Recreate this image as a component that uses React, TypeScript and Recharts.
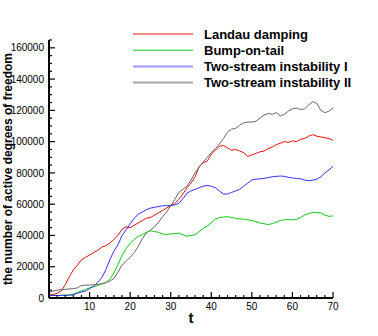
import { LineChart, Line, XAxis, YAxis, Legend } from "recharts";

const tValues = [
  0, 1, 2, 3, 4, 5, 6, 7, 8, 9, 10, 11, 12, 13, 14, 15, 16, 17, 18, 19, 20,
  21, 22, 23, 24, 25, 26, 27, 28, 29, 30, 31, 32, 33, 34, 35, 36, 37, 38, 39, 40,
  41, 42, 43, 44, 45, 46, 47, 48, 49, 50, 51, 52, 53, 54, 55, 56, 57, 58, 59, 60,
  61, 62, 63, 64, 65, 66, 67, 68, 69, 70,
];

const landau = [
  2000, 2200, 3000, 4500, 8500, 13500, 18000, 21000, 24500, 26000, 27500,
  29000, 30500, 32500, 33500, 35000, 37500, 40000, 44000, 45500, 45000,
  46500, 48000, 49500, 51000, 51500, 53000, 54500, 56000, 57500, 59000,
  60500, 63000, 66500, 70500, 73500, 77500, 84000, 86500, 87500, 92000,
  94500, 97000, 97500, 96000, 94500, 95000, 94000, 93000, 90500, 91500,
  92500, 93500, 94000, 95500, 96500, 98000, 99000, 100000, 99500, 100500,
  100000, 101500, 102000, 103500, 104500, 103500, 103000, 102500, 102000, 100800,
];

const bumpOnTail = [
  1500, 1600, 1600, 1700, 1800, 2000, 2500, 3500, 4500, 5500, 6500,
  7200, 8000, 9000, 9800, 12000, 16000, 21500, 27000, 31500, 35000,
  37500, 39500, 40500, 42000, 43000, 42500, 42000, 41000, 40500, 41000,
  41200, 41500, 40500, 39500, 40000, 40500, 42500, 44500, 46000, 48000,
  50500, 51500, 51800, 52000, 51500, 51000, 50500, 50500, 50000, 49500,
  48800, 48000, 47500, 47000, 47500, 48500, 49500, 50000, 50200, 50000,
  50200, 51500, 53000, 54000, 54800, 54500, 54500, 53000, 52200, 52500,
];

const twoStreamI = [
  1500, 1600, 1600, 1700, 1700, 1800, 2000, 3000, 3800, 4500, 6000,
  7500, 10000, 13000, 18000, 24500, 30000, 34000, 40000, 43500, 47500,
  51000, 53500, 55000, 56500, 57500, 58000, 58500, 59000, 59000, 59200,
  59500, 60500, 63500, 67000, 68500, 69500, 70500, 71500, 72000, 71500,
  70500, 68500, 66500, 66500, 67500, 68500, 69500, 71500, 73500, 75500,
  76000, 76200, 76500, 77000, 77500, 77800, 78000, 77800, 77200, 76800,
  76500, 76200, 75500, 75000, 75300, 76000, 77500, 80000, 82000, 84200,
];

const twoStreamII = [
  3500, 4500, 5000, 5300, 5500, 5800, 6000, 6500, 8000, 8200, 8300,
  8500, 8700, 9200, 9800, 10800, 12500, 16500, 21000, 23500, 26000,
  29000, 33000, 38000, 41500, 43500, 45500, 48500, 52000, 55000, 59000,
  63000, 67500, 69500, 71500, 75500, 80000, 83500, 87000, 90000, 93000,
  95500, 98500, 102000, 106000, 108000, 108500, 110500, 112000, 112500, 112500,
  113000, 115000, 117000, 118000, 117500, 118500, 116500, 117500, 119500, 121000,
  121500, 120500, 121000, 123500, 125500, 124500, 120000, 118500, 119500, 121500,
];

const yTicks = [
  0, 5000, 10000, 15000, 20000, 25000, 30000, 35000, 40000, 45000, 50000,
  55000, 60000, 65000, 70000, 75000, 80000, 85000, 90000, 95000, 100000,
  105000, 110000, 115000, 120000, 125000, 130000, 135000, 140000, 145000,
  150000, 155000, 160000, 165000,
];

const xTicks = [
  0, 2, 4, 6, 8, 10, 12, 14, 16, 18, 20, 22, 24, 26, 28, 30, 32, 34, 36, 38,
  40, 42, 44, 46, 48, 50, 52, 54, 56, 58, 60, 62, 64, 66, 68, 70,
];

const series = [
  { key: "landau", name: "Landau damping", color: "#e01010", legendColor: "#e01010", legendWidth: 1 },
  { key: "bump", name: "Bump-on-tail", color: "#10c810", legendColor: "#10c810", legendWidth: 1 },
  { key: "ts1", name: "Two-stream instability I", color: "#3030ff", legendColor: "#9a9aff", legendWidth: 2 },
  { key: "ts2", name: "Two-stream instability II", color: "#686868", legendColor: "#a8a8a8", legendWidth: 2 },
];

const data = tValues.map((t, i) => ({
  t,
  landau: landau[i],
  bump: bumpOnTail[i],
  ts1: twoStreamI[i],
  ts2: twoStreamII[i],
}));

const FONT = "'Liberation Sans', Arial, sans-serif";
const PLOT_LEFT = 49;
const PLOT_BOTTOM = 298;

function YTick(props: any) {
  const { payload } = props;
  const y = payload.coordinate;
  const major = payload.value % 20000 === 0;
  return (
    <g>
      <line x1={PLOT_LEFT} x2={PLOT_LEFT + (major ? 6 : 3)} y1={y} y2={y} stroke="#000" strokeWidth={1.2} />
      {major && (
        <text x={PLOT_LEFT - 5} y={y} dy="0.36em" textAnchor="end" fontSize={10} fontFamily={FONT} fill="#000">
          {payload.value}
        </text>
      )}
    </g>
  );
}

function XTick(props: any) {
  const { payload } = props;
  const x = payload.coordinate;
  const major = payload.value % 10 === 0;
  return (
    <g>
      <line x1={x} x2={x} y1={PLOT_BOTTOM} y2={PLOT_BOTTOM - (major ? 6 : 3)} stroke="#000" strokeWidth={1.2} />
      {major && payload.value > 0 && (
        <text x={x} y={PLOT_BOTTOM + 12} textAnchor="middle" fontSize={10} fontFamily={FONT} fill="#000">
          {payload.value}
        </text>
      )}
    </g>
  );
}

// y title sits at the far left edge, centred on the axis
function YTitle() {
  return (
    <text
      x={12}
      y={169}
      transform="rotate(-90 12 169)"
      textAnchor="middle"
      fontSize={12}
      fontWeight="bold"
      fontFamily={FONT}
      fill="#000"
    >
      the number of active degrees of freedom
    </text>
  );
}

function renderLegend() {
  return (
    <svg width={378} height={100} style={{ display: "block" }}>
      {series.map((s, i) => {
        const y = 34 + i * 16.2;
        return (
          <g key={s.key}>
            <line x1={133} x2={193} y1={y} y2={y} stroke={s.legendColor} strokeWidth={s.legendWidth} />
            <text x={204} y={y + 4.5} fontSize={13} fontWeight="bold" fontFamily={FONT} fill="#000">
              {s.name}
            </text>
          </g>
        );
      })}
    </svg>
  );
}

export default function App() {
  return (
    <div style={{ position: "absolute", left: 0, top: 0, width: 378, height: 336, background: "#fff" }}>
      <LineChart width={378} height={336} data={data} margin={{ top: 40, right: 45, left: 0, bottom: 0 }}>
        <XAxis
          dataKey="t"
          type="number"
          domain={[0, 70]}
          ticks={xTicks}
          interval={0}
          height={38}
          axisLine={{ stroke: "#000", strokeWidth: 2 }}
          tickLine={false}
          tick={<XTick />}
          label={{ value: "t", position: "insideBottom", offset: 13, fontSize: 15, fontWeight: "bold", fontFamily: FONT, fill: "#000" }}
        />
        <YAxis
          type="number"
          domain={[0, 165000]}
          ticks={yTicks}
          interval={0}
          width={49}
          axisLine={{ stroke: "#000", strokeWidth: 2 }}
          tickLine={false}
          tick={<YTick />}
          label={<YTitle />}
        />
        <Legend
          layout="vertical"
          align="center"
          verticalAlign="middle"
          content={renderLegend}
          wrapperStyle={{ left: 0, top: 0, width: 378, height: 100 }}
        />
        {series.map((s) => (
          <Line
            key={s.key}
            dataKey={s.key}
            name={s.name}
            stroke={s.color}
            strokeWidth={1}
            dot={false}
            type="linear"
            isAnimationActive={false}
          />
        ))}
      </LineChart>
    </div>
  );
}
